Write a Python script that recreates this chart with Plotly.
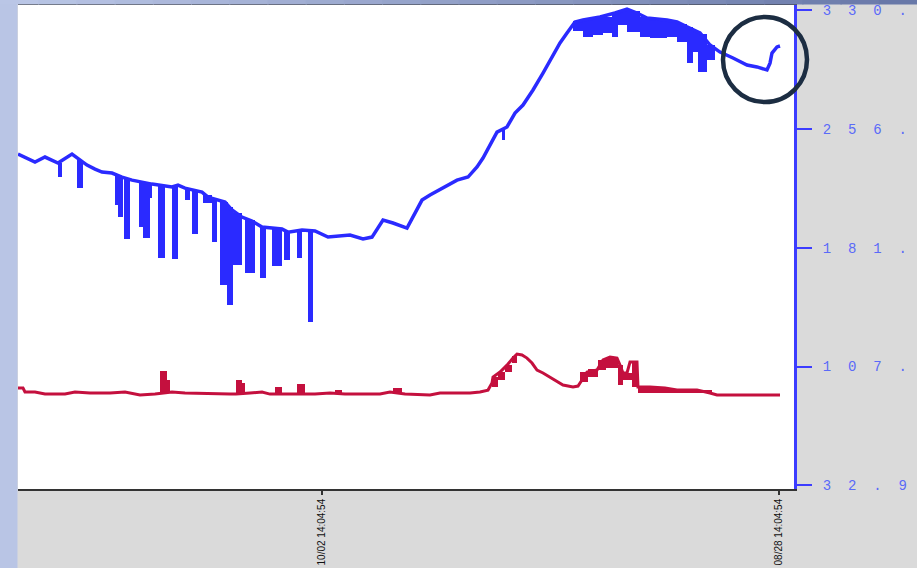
import plotly.graph_objects as go

# ---------------- data (sample index t, value) ----------------
x_tick_vals = [304, 761]
x_tick_text = ["10/02 14:04:54", "08/28 14:04:54"]
y_tick_vals = [32.9, 107.2, 181.4, 255.7, 330.0]
y_tick_text = ["32.9", "107.", "181.", "256.", "330."]

blue_t = [0, 17, 27, 40, 54, 60, 69, 77, 84, 94, 104, 114, 124, 134, 154, 160, 167, 184, 190, 207,
          214, 224, 234, 244, 264, 270, 284, 297, 310, 327, 332, 345, 354, 365, 375, 389, 395, 404, 412, 425,
          439, 450, 459, 465, 475, 479, 489, 497, 505, 515, 525, 532, 542, 549, 557, 565, 582, 597, 609, 619,
          629, 649, 659, 669, 682, 692, 702, 715, 729, 739, 749, 752, 754, 759, 762]
blue_v = [240.0, 235.0, 238.1, 234.4, 240.0, 237.5, 233.1, 230.6, 228.7, 228.1, 225.6, 223.7, 222.5, 221.2, 219.4, 220.6, 218.7, 216.2, 213.1, 210.0,
          205.0, 200.6, 198.1, 194.4, 193.1, 191.2, 192.5, 191.9, 188.1, 188.8, 189.4, 186.9, 188.1, 198.7, 196.9, 193.7, 200.6, 211.2, 214.4, 218.7,
          223.7, 225.6, 231.9, 237.5, 248.7, 253.7, 256.9, 265.6, 270.6, 280.0, 290.6, 298.7, 309.4, 315.6, 322.5, 323.7, 325.6, 328.1, 330.6, 328.1,
          325.0, 323.7, 322.5, 319.4, 315.6, 308.1, 303.7, 300.0, 295.6, 294.4, 292.5, 296.8, 303.1, 306.9, 307.5]

# blue drop-outs (min readings) : centre, duration, low, high
blue_drop_t = [42, 62, 98.5, 102.5, 109, 123, 128.5, 133, 143.5, 157, 169.5, 177, 189.5, 196.5, 206, 212, 219.5, 232, 245, 259,
               269, 281.5, 292.5, 485.5, 560, 570, 580, 589.5, 597, 604.5, 615.5, 627, 637, 645.5, 654, 664, 672, 677.5, 684.5, 693]
blue_drop_w = [4, 6, 3, 5, 6, 4, 7, 2, 7, 6, 5, 6, 9, 5, 8, 6, 9, 10, 6, 10,
               6, 5, 5, 3, 10, 10, 10, 9, 6, 9, 13, 10, 10, 7, 10, 10, 6, 5, 9, 8]
blue_drop_low = [225.6, 218.7, 208.1, 200.6, 186.9, 194.4, 187.5, 212.5, 175.0, 174.4, 211.2, 190.0, 209.4, 185.0, 158.1, 145.6, 170.6, 165.6, 162.5, 170.0,
                 173.8, 175.0, 135.0, 248.7, 316.9, 313.1, 314.4, 315.6, 313.1, 320.6, 316.2, 313.1, 312.5, 312.5, 313.1, 310.0, 296.9, 303.7, 291.2, 298.7]
blue_drop_high = [234.4, 236.2, 226.9, 226.2, 225.0, 222.5, 221.9, 221.2, 220.6, 220.0, 218.1, 217.5, 214.4, 211.9, 210.0, 206.9, 203.1, 198.7, 194.4, 193.1,
                  191.9, 192.5, 191.2, 256.2, 323.1, 324.4, 325.0, 325.6, 328.1, 330.0, 329.4, 325.6, 324.4, 323.7, 323.1, 321.2, 319.4, 317.5, 315.0, 308.1]

red_t = [0, 5, 7, 17, 27, 47, 57, 72, 92, 107, 122, 137, 154, 167, 212, 218, 232, 244, 252, 272,
         297, 312, 327, 362, 372, 387, 412, 422, 452, 462, 470, 474, 475, 482, 489, 495, 499, 504, 509, 514,
         519, 525, 532, 539, 545, 555, 560, 564, 569, 579, 585, 592, 599, 602, 605, 609, 612, 619, 620, 632,
         647, 659, 679, 692, 699, 762]
red_v = [93.8, 93.8, 91.3, 91.3, 90.0, 90.0, 91.3, 90.7, 90.7, 91.3, 89.4, 90.0, 91.3, 90.7, 90.0, 90.0, 90.7, 91.3, 90.0, 90.0,
         90.0, 90.7, 90.0, 90.0, 91.3, 90.0, 89.4, 90.7, 90.7, 91.3, 92.5, 96.9, 100.6, 103.8, 108.1, 112.5, 115.0, 114.4, 112.5, 109.4,
         105.0, 103.2, 100.6, 97.5, 95.7, 94.4, 95.0, 98.8, 103.8, 105.0, 111.3, 113.2, 112.5, 108.1, 103.2, 103.2, 110.0, 110.0, 94.4, 94.4,
         93.8, 92.5, 92.5, 90.7, 89.4, 89.4]

# red bursts (max readings) : centre, duration, low, high
red_burst_t = [145.5, 150.5, 221, 225.5, 260.5, 283, 320.5, 379.5, 477, 483.5, 490.5, 496.5, 566, 575, 584, 594, 602.5, 609.5, 617, 631, 657, 683]
red_burst_w = [7, 3, 6, 3, 7, 8, 7, 9, 6, 7, 7, 5, 8, 10, 8, 12, 5, 9, 6, 22, 30, 22]
red_burst_low = [90.7, 90.7, 90.0, 90.0, 90.0, 90.0, 90.0, 90.0, 94.4, 98.8, 103.8, 109.4, 97.5, 100.6, 105.0, 106.3, 95.7, 98.8, 94.4, 90.7, 90.7, 90.7]
red_burst_high = [104.4, 98.8, 98.8, 96.9, 94.4, 96.3, 92.5, 93.8, 100.6, 103.8, 108.1, 113.8, 103.8, 105.6, 111.3, 113.2, 108.1, 103.2, 110.0, 94.4, 93.1, 92.5]

# ---------------- styles ----------------
BLUE = "#2a2aff"
RED = "#c4103e"
AXIS_BLUE = "#3c3cff"
LABEL_BLUE = "#5a6af8"

def spaced(s):
    return "\u00a0\u00a0".join(list(s))

fig = go.Figure()
fig.add_trace(go.Bar(x=blue_drop_t, base=blue_drop_low,
                     y=[h - l for h, l in zip(blue_drop_high, blue_drop_low)],
                     width=blue_drop_w, marker=dict(color=BLUE, line_width=0), hoverinfo="skip"))
fig.add_trace(go.Scatter(x=blue_t, y=blue_v, mode="lines", line=dict(color=BLUE, width=3.5)))
fig.add_trace(go.Bar(x=red_burst_t, base=red_burst_low,
                     y=[h - l for h, l in zip(red_burst_high, red_burst_low)],
                     width=red_burst_w, marker=dict(color=RED, line_width=0), hoverinfo="skip"))
fig.add_trace(go.Scatter(x=red_t, y=red_v, mode="lines", line=dict(color=RED, width=3)))

W, H = 917, 568
L, R, T, B = 18, 123, 5, 79
pw, ph = W - L - R, H - T - B

def px(xp):
    return (xp - L) / pw

def py(yp):
    return (H - B - yp) / ph

shapes = []
# left light-blue strip
shapes.append(dict(type="rect", xref="paper", yref="paper", x0=px(0), x1=px(17.5), y0=py(H), y1=py(0),
                   fillcolor="#b9c5e5", line_width=0, layer="above"))
# top gradient strip
n = 24
c0 = (186, 198, 230)
c1 = (104, 120, 168)
for i in range(n):
    f = i / (n - 1)
    col = "rgb(%d,%d,%d)" % tuple(round(a + (b - a) * f) for a, b in zip(c0, c1))
    shapes.append(dict(type="rect", xref="paper", yref="paper",
                       x0=px(W * i / n), x1=px(W * (i + 1) / n + 1), y0=py(4.5), y1=py(0),
                       fillcolor=col, line_width=0, layer="above"))
# highlight circle
shapes.append(dict(type="circle", xref="paper", yref="paper", x0=px(723), x1=px(807), y0=py(102), y1=py(17),
                   line=dict(color="#1c2d42", width=4.5), fillcolor="rgba(0,0,0,0)", layer="above"))

fig.update_layout(
    width=W, height=H, margin=dict(l=L, r=R, t=T, b=B, pad=0, autoexpand=False),
    paper_bgcolor="#dadada", plot_bgcolor="white",
    showlegend=False, barmode="overlay", bargap=0, shapes=shapes,
)
fig.update_xaxes(range=[0, pw], tickvals=x_tick_vals, ticktext=x_tick_text, tickangle=-90,
                 ticks="outside", ticklen=4, tickcolor="#333", tickwidth=1.5, automargin=False,
                 showgrid=False, zeroline=False, showline=True, linecolor="#333", linewidth=1.5, mirror=True,
                 tickfont=dict(family="Liberation Sans Narrow, Arial Narrow, Liberation Sans", size=10, color="#111"))
fig.update_yaxes(side="right", range=[30.7, 333.1], tickvals=y_tick_vals,
                 ticktext=[spaced(s) for s in y_tick_text], automargin=False,
                 ticks="outside", ticklen=15, tickcolor=AXIS_BLUE, tickwidth=1.5,
                 showline=True, linecolor=AXIS_BLUE, linewidth=3, showgrid=False, zeroline=False,
                 ticklabelstandoff=8,
                 tickfont=dict(family="Liberation Mono, DejaVu Sans Mono", size=14, color=LABEL_BLUE))

fig.write_html("out.html", config={"displayModeBar": False},
               post_script="document.body.style.margin='0';")
